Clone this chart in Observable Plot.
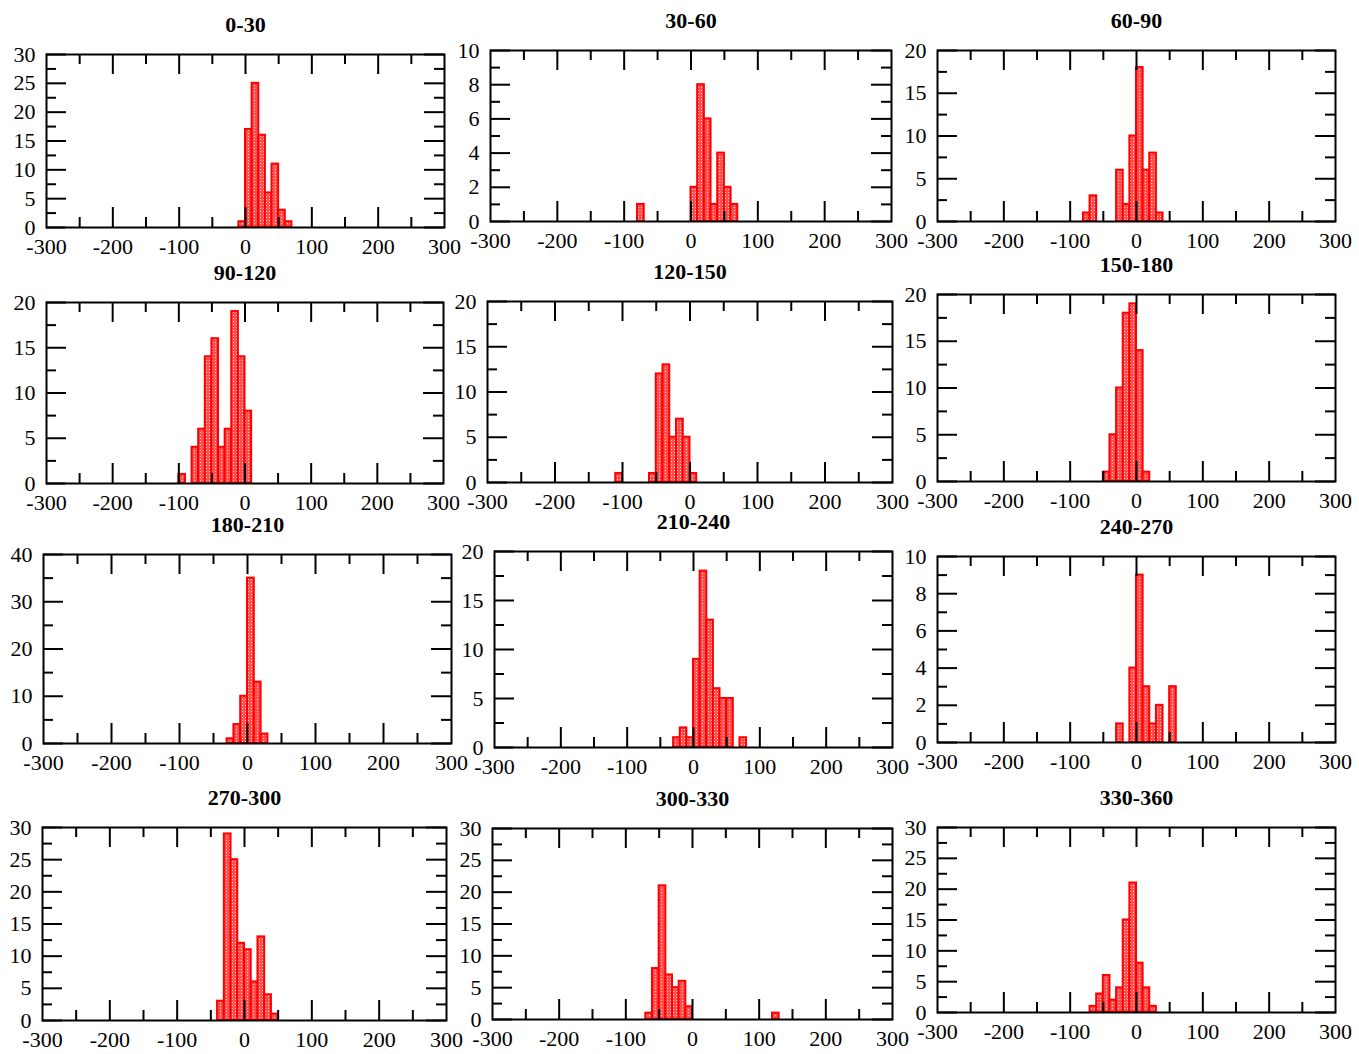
<!DOCTYPE html>
<html>
<head>
<meta charset="utf-8">
<script src="https://cdn.jsdelivr.net/npm/d3@7"></script>
<script src="https://cdn.jsdelivr.net/npm/@observablehq/plot@0.6"></script>
<style>
  html, body { margin: 0; padding: 0; background: #fff; }
  #wrap { position: relative; width: 1359px; height: 1054px; overflow: hidden; }
  #wrap > svg.plotpanel, #wrap > figure { position: absolute; margin: 0; }
</style>
</head>
<body>
<svg width="0" height="0" style="position:absolute">
  <defs>
    <pattern id="chk" width="3" height="3" patternUnits="userSpaceOnUse">
      <rect width="3" height="3" fill="#ff5050"></rect>
      <rect x="1" y="1" width="1" height="1" fill="#ffd0d0"></rect>
    </pattern>
  </defs>
</svg>
<div id="wrap"></div>
<script>
// ---------- data ----------
const titles = ["0-30","30-60","60-90","90-120","120-150","150-180","180-210","210-240","240-270","270-300","300-330","330-360"];
const yMaxes = [30, 10, 20, 20, 20, 20, 40, 20, 10, 30, 30, 30];
const ySteps = [5, 2, 5, 5, 5, 5, 10, 5, 2, 5, 5, 5];
const xTickLabels = [-300, -200, -100, 0, 100, 200, 300];
const binWidth = 10;

// left edges of bins and counts, per panel
const bins01 = [-10, 0, 10, 20, 30, 40, 50, 60];
const counts01 = [1, 17, 25, 16, 6, 11, 3, 1];
const bins02 = [-80, 0, 10, 20, 30, 40, 50, 60];
const counts02 = [1, 2, 8, 6, 1, 4, 2, 1];
const bins03 = [-80, -70, -30, -20, -10, 0, 10, 20, 30];
const counts03 = [1, 3, 6, 2, 10, 18, 6, 8, 1];
const bins04 = [-100, -80, -70, -60, -50, -40, -30, -20, -10, 0];
const counts04 = [1, 4, 6, 14, 16, 4, 6, 19, 14, 8];
const bins05 = [-110, -60, -50, -40, -30, -20, -10, 0];
const counts05 = [1, 1, 12, 13, 5, 7, 5, 1];
const bins06 = [-50, -40, -30, -20, -10, 0, 10];
const counts06 = [1, 5, 10, 18, 19, 14, 1];
const bins07 = [-30, -20, -10, 0, 10, 20];
const counts07 = [1, 4, 10, 35, 13, 2];
const bins08 = [-30, -20, -10, 0, 10, 20, 30, 40, 50, 70];
const counts08 = [1, 2, 1, 9, 18, 13, 6, 5, 5, 1];
const bins09 = [-30, -10, 0, 10, 20, 30, 50];
const counts09 = [1, 4, 9, 3, 1, 2, 3];
const bins10 = [-40, -30, -20, -10, 0, 10, 20, 30, 40];
const counts10 = [3, 29, 25, 12, 11, 6, 13, 4, 1];
const bins11 = [-70, -60, -50, -40, -30, -20, -10, 120];
const counts11 = [1, 8, 21, 7, 5, 6, 2, 1];
const bins12 = [-70, -60, -50, -40, -30, -20, -10, 0, 10, 20];
const counts12 = [1, 3, 6, 2, 4, 15, 21, 8, 4, 1];

const allBins = [bins01, bins02, bins03, bins04, bins05, bins06, bins07, bins08, bins09, bins10, bins11, bins12];
const allCounts = [counts01, counts02, counts03, counts04, counts05, counts06, counts07, counts08, counts09, counts10, counts11, counts12];

// ---------- layout (frame left, right, top, bottom in page pixels) ----------
const frames = [
  [46, 444, 54, 227], [490, 891, 50, 221], [937, 1335, 50, 221],
  [46, 443, 302, 483], [487, 892, 301, 482], [937, 1335, 294, 481],
  [43, 451, 554, 743], [494, 892, 551, 747], [937, 1335, 556, 742],
  [42, 446, 827, 1020], [492, 892, 828, 1019], [937, 1335, 827, 1012]
];
const mL = 60, mR = 40, mT = 45, mB = 40;
const majorLen = 20, minorLen = 10;
const font = "'Liberation Serif', 'Times New Roman', Times, serif";

const wrap = document.getElementById("wrap");

titles.forEach((title, i) => {
  const [fl, fr, ft, fb] = frames[i];
  const W = fr - fl, H = fb - ft;
  const bars = allBins[i].map((b, j) => ({x1: b, x2: b + binWidth, y: allCounts[i][j]}));
  const ymax = yMaxes[i], ystep = ySteps[i];
  const yMajor = d3.range(0, ymax + ystep / 2, ystep);
  const yMinor = d3.range(ystep / 2, ymax, ystep);
  const xMajor = [-200, -100, 0, 100, 200];
  const xMinor = [-250, -150, -50, 50, 150, 250];
  const tk = {stroke: "black", strokeWidth: 2};

  const chart = Plot.plot({
    width: W + mL + mR,
    height: H + mT + mB,
    marginLeft: mL, marginRight: mR, marginTop: mT, marginBottom: mB,
    x: {domain: [-300, 300], label: null},
    y: {domain: [0, ymax], label: null},
    style: {fontFamily: font, fontSize: "22px", color: "black", background: "transparent", overflow: "visible"},
    marks: [
      Plot.rectY(bars, {x1: "x1", x2: "x2", y: "y", fill: "url(#chk)", stroke: "red", strokeWidth: 2}),
      // bottom & top x ticks
      Plot.tickX(xMajor, {x: d => d, insetTop: H - majorLen, ...tk}),
      Plot.tickX(xMinor, {x: d => d, insetTop: H - minorLen, ...tk}),
      Plot.tickX(xMajor, {x: d => d, insetBottom: H - majorLen, ...tk}),
      Plot.tickX(xMinor, {x: d => d, insetBottom: H - minorLen, ...tk}),
      // left & right y ticks
      Plot.tickY(yMajor, {y: d => d, insetRight: W - majorLen, ...tk}),
      Plot.tickY(yMinor, {y: d => d, insetRight: W - minorLen, ...tk}),
      Plot.tickY(yMajor, {y: d => d, insetLeft: W - majorLen, ...tk}),
      Plot.tickY(yMinor, {y: d => d, insetLeft: W - minorLen, ...tk}),
      Plot.frame({stroke: "black", strokeWidth: 2}),
      Plot.axisX(xTickLabels, {tickSize: 0, tickPadding: 11, tickFormat: d => String(d), fontSize: 22, label: null}),
      Plot.axisY(yMajor, {tickSize: 0, tickPadding: 11, tickFormat: d => String(d), fontSize: 22, label: null}),
      Plot.text([title], {frameAnchor: "top", dy: -30, lineAnchor: "middle", fontWeight: "bold", fontSize: 22, text: d => d})
    ]
  });
  chart.classList.add("plotpanel");
  chart.style.left = (fl - mL) + "px";
  chart.style.top = (ft - mT) + "px";
  wrap.appendChild(chart);
});
</script>
</body>
</html>
